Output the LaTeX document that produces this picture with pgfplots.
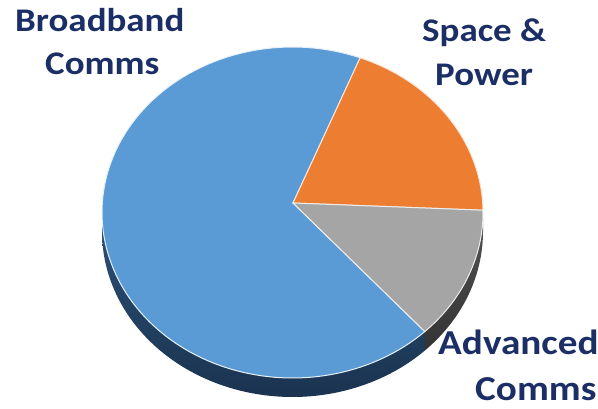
\documentclass[border=0pt]{standalone}
\usepackage{pgfplots}
\usepackage{pgfplotstable}
\pgfplotsset{compat=1.18}
\usepackage{fontspec}
\usepackage{graphicx}
\setmainfont{Carlito}

\definecolor{bbBlue}{HTML}{5B9BD5}
\definecolor{spOrange}{HTML}{ED7D31}
\definecolor{acGray}{HTML}{A5A5A5}
\definecolor{sideBlue}{HTML}{2C5278}
\definecolor{sideBlueDark}{HTML}{1A3350}
\definecolor{sideGray}{HTML}{555555}
\definecolor{sideGrayDark}{HTML}{333333}
\definecolor{labelNavy}{HTML}{1B2F66}

% share of each segment, in percent
\pgfplotstableread{
segment share
Broadband 68
Space 19
Advanced 13
}\sharetable

% slightly widened bold label text
\newcommand\lbl[2]{{\fontsize{#1}{#1}\selectfont\bfseries\scalebox{1.12}[1]{#2}}}

\begin{document}
\begin{tikzpicture}
\pgfplotstablegetelem{0}{share}\of\sharetable \let\shBB\pgfplotsretval
\pgfplotstablegetelem{1}{share}\of\sharetable \let\shSP\pgfplotsretval
\pgfplotstablegetelem{2}{share}\of\sharetable \let\shAC\pgfplotsretval
% slice boundaries, clockwise from the top
\pgfmathsetmacro\aStart{69.2}
\pgfmathsetmacro\aSP{\aStart-3.6*\shSP}
\pgfmathsetmacro\aAC{\aSP-3.6*\shAC}
\pgfmathsetmacro\aBB{\aAC-3.6*\shBB}
% ellipse of the top face, depth of the rim, apex of the slices
\def\cx{292.5}\def\cy{212.5}\def\rx{190.5}\def\ry{165.5}\def\dep{19}
\def\px{293}\def\py{203}

\begin{axis}[x=1pt, y=1pt, xmin=0, xmax=598, ymin=0, ymax=409,
  y dir=reverse, hide axis, clip=false, samples=120]
% rim of the disc
\addplot[draw=none, top color=sideBlue, bottom color=sideBlueDark, domain=-180:\aAC]
  ({\cx+\rx*cos(x)},{\cy-\ry*sin(x)})
  -- plot[domain=\aAC:-180, samples=120] ({\cx+\rx*cos(\x)},{\cy+\dep-\ry*sin(\x)}) -- cycle;
\addplot[draw=none, top color=sideGray, bottom color=sideGrayDark, domain=\aAC:0]
  ({\cx+\rx*cos(x)},{\cy-\ry*sin(x)})
  -- plot[domain=0:\aAC, samples=60] ({\cx+\rx*cos(\x)},{\cy+\dep-\ry*sin(\x)}) -- cycle;
% top face
\addplot[fill=bbBlue, draw=white!85!bbBlue, line width=1pt, domain=\aBB:\aAC]
  ({\cx+\rx*cos(x)},{\cy-\ry*sin(x)}) -- (\px,\py) -- cycle;
\addplot[fill=spOrange, draw=white!80!spOrange, line width=1pt, domain=\aSP:\aStart]
  ({\cx+\rx*cos(x)},{\cy-\ry*sin(x)}) -- (\px,\py) -- cycle;
\addplot[fill=acGray, draw=white!80!acGray, line width=1pt, domain=\aAC:\aSP]
  ({\cx+\rx*cos(x)},{\cy-\ry*sin(x)}) -- (\px,\py) -- cycle;
% segment names
\begin{scope}[every node/.style={anchor=base west, text=labelNavy, inner sep=0pt}]
\node at (15,32) {\lbl{33}{Broadband}};
\node at (45,75) {\lbl{33}{Comms}};
\node at (422,42) {\lbl{33}{Space \&}};
\node at (435,86) {\lbl{33}{Power}};
\node at (438,355) {\lbl{35}{Advanced}};
\node at (475,400) {\lbl{35}{Comms}};
\end{scope}
\end{axis}
\pgfresetboundingbox
\path (0,0) rectangle (598pt,409pt);
\end{tikzpicture}
\end{document}
